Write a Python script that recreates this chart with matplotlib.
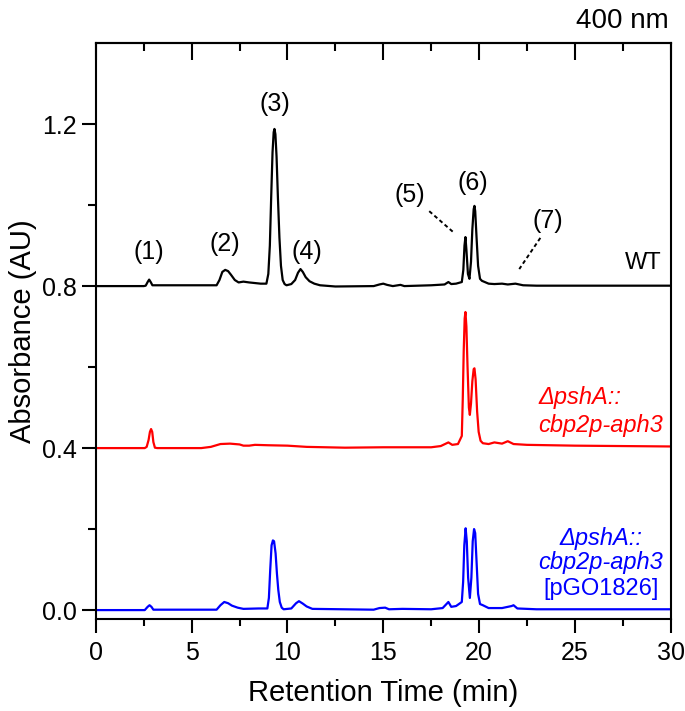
import matplotlib
matplotlib.use('Agg')
import matplotlib.pyplot as plt
import numpy as np

plt.rcParams['font.family'] = ['Liberation Sans', 'DejaVu Sans']

# retention time (min) / absorbance (AU)
wt_time = [0, 2.5, 2.6, 2.7, 2.78, 2.86, 2.95, 6.3, 6.45, 6.6, 6.75, 6.9, 7.05, 7.25,
           7.45, 7.7, 8.0, 8.6, 8.9, 9.0, 9.08, 9.15, 9.22, 9.28, 9.32, 9.37, 9.43, 9.5,
           9.58, 9.66, 9.75, 9.85, 9.95, 10.2, 10.4, 10.55, 10.68, 10.8, 10.95, 11.15,
           11.4, 11.7, 12.5, 14.5, 14.8, 15.0, 15.2, 15.5, 15.9, 16.1, 17.5, 18.2, 18.4,
           18.55, 18.8, 19.1, 19.18, 19.24, 19.29, 19.34, 19.42, 19.5, 19.58, 19.65,
           19.72, 19.76, 19.8, 19.87, 19.95, 20.05, 20.15, 20.3, 20.5, 20.8, 21.2, 21.5,
           21.9, 22.3, 23, 30]
wt_abs = [0.800, 0.800, 0.801, 0.810, 0.816, 0.810, 0.802, 0.802, 0.815, 0.835, 0.840,
          0.837, 0.828, 0.815, 0.809, 0.811, 0.809, 0.806, 0.806, 0.830, 0.900, 1.020,
          1.130, 1.180, 1.188, 1.175, 1.120, 1.020, 0.920, 0.850, 0.815, 0.805, 0.802,
          0.805, 0.815, 0.833, 0.842, 0.835, 0.822, 0.812, 0.806, 0.802, 0.799, 0.800,
          0.804, 0.806, 0.803, 0.800, 0.803, 0.800, 0.802, 0.804, 0.810, 0.805, 0.806,
          0.810, 0.840, 0.900, 0.921, 0.890, 0.830, 0.818, 0.860, 0.940, 0.990, 0.998,
          0.985, 0.920, 0.850, 0.818, 0.813, 0.810, 0.806, 0.805, 0.806, 0.804, 0.806,
          0.802, 0.801, 0.801]

mut_time = [0, 2.55, 2.65, 2.75, 2.82, 2.88, 2.94, 3.0, 3.08, 3.2, 5.5, 6.0, 6.5, 7.0,
            7.5, 7.7, 8.0, 8.3, 9, 10, 11, 13, 15, 17.5, 18.0, 18.4, 18.6, 18.9, 19.1,
            19.15, 19.2, 19.25, 19.29, 19.34, 19.4, 19.47, 19.52, 19.58, 19.65, 19.72,
            19.76, 19.82, 19.9, 19.98, 20.08, 20.2, 20.5, 20.8, 21.2, 21.5, 21.8, 22.5,
            25, 30]
mut_abs = [0.400, 0.400, 0.403, 0.420, 0.440, 0.447, 0.440, 0.415, 0.401, 0.400, 0.400,
           0.403, 0.410, 0.411, 0.409, 0.406, 0.406, 0.408, 0.407, 0.406, 0.403, 0.401,
           0.402, 0.402, 0.405, 0.414, 0.408, 0.410, 0.430, 0.520, 0.640, 0.720, 0.736,
           0.700, 0.600, 0.500, 0.482, 0.510, 0.565, 0.595, 0.597, 0.570, 0.490, 0.440,
           0.418, 0.412, 0.410, 0.414, 0.411, 0.417, 0.410, 0.408, 0.406, 0.404]

comp_time = [0, 2.55, 2.7, 2.8, 2.9, 3.0, 6.3, 6.5, 6.7, 6.9, 7.1, 7.4, 7.7, 8.5, 8.95,
             9.03, 9.1, 9.17, 9.24, 9.3, 9.38, 9.45, 9.52, 9.6, 9.7, 9.8, 10.2, 10.45,
             10.6, 10.8, 11.0, 11.3, 14.5, 14.8, 15.1, 15.3, 16.0, 17.5, 18.1, 18.4,
             18.55, 18.8, 19.1, 19.17, 19.23, 19.3, 19.36, 19.43, 19.52, 19.6, 19.67,
             19.74, 19.8, 19.87, 19.95, 20.05, 20.2, 20.5, 21.2, 21.7, 21.8, 22.0, 23, 30]
comp_abs = [0.000, 0.000, 0.008, 0.012, 0.008, 0.001, 0.001, 0.012, 0.020, 0.017, 0.011,
            0.006, 0.003, 0.004, 0.004, 0.030, 0.100, 0.160, 0.172, 0.170, 0.140, 0.090,
            0.050, 0.020, 0.006, 0.002, 0.004, 0.017, 0.022, 0.016, 0.009, 0.003, 0.001,
            0.005, 0.006, 0.002, 0.003, 0.002, 0.005, 0.020, 0.008, 0.010, 0.020, 0.070,
            0.160, 0.202, 0.170, 0.080, 0.030, 0.080, 0.170, 0.200, 0.190, 0.120, 0.040,
            0.015, 0.012, 0.005, 0.005, 0.010, 0.012, 0.004, 0.002, 0.002]

peak_labels = ['(1)', '(2)', '(3)', '(4)', '(5)', '(6)', '(7)']
peak_x = [2.77, 6.75, 9.35, 11.0, 16.4, 19.7, 23.6]
peak_y = [0.885, 0.905, 1.25, 0.885, 1.025, 1.055, 0.96]

fig = plt.figure(figsize=(6.85, 7.11), dpi=100)
ax = fig.add_axes([0.140, 0.1294, 0.839, 0.810])

ax.plot(wt_time, wt_abs, color='black', lw=1.6)
ax.plot(mut_time, mut_abs, color='red', lw=1.6)
ax.plot(comp_time, comp_abs, color='blue', lw=1.6)

for lab, x, y in zip(peak_labels, peak_x, peak_y):
    ax.text(x, y, lab, fontsize=18, ha='center', va='center')

# leader lines for (5) and (7)
ax.plot([17.4, 18.66], [0.985, 0.933], color='black', lw=1.4, ls=(0, (2, 1.5)))
ax.plot([23.2, 22.1], [0.919, 0.842], color='black', lw=1.4, ls=(0, (2, 1.5)))

ax.text(29.5, 0.857, 'WT', fontsize=17, ha='right', va='center')
ax.text(23.1, 0.49, '\u0394pshA::\ncbp2p-aph3', fontsize=17, color='red',
        style='italic', ha='left', va='center', linespacing=1.25)
ax.text(26.35, 0.147, '\u0394pshA::\ncbp2p-aph3', fontsize=17, color='blue',
        style='italic', ha='center', va='center', linespacing=1.1)
ax.text(26.35, 0.052, '[pGO1826]', fontsize=17, color='blue', ha='center', va='center')

ax.set_xlim(0, 30)
ax.set_ylim(-0.022, 1.40)
ax.set_xticks(np.arange(0, 31, 5))
ax.set_xticks(np.arange(2.5, 30, 5), minor=True)
ax.set_yticks([0.0, 0.4, 0.8, 1.2])
ax.set_yticks([0.2, 0.6, 1.0], minor=True)
ax.yaxis.set_major_formatter(matplotlib.ticker.FormatStrFormatter('%.1f'))

ax.tick_params(axis='x', which='both', direction='out', labelsize=18, width=1.5, pad=6)
ax.tick_params(axis='x', which='major', length=10)
ax.tick_params(axis='x', which='minor', length=5)
ax.tick_params(axis='y', which='both', direction='out', labelsize=18, width=1.5)
ax.tick_params(axis='y', which='major', length=10)
ax.tick_params(axis='y', which='minor', length=6)

# top ticks point inward
top = ax.secondary_xaxis('top')
top.set_xticks(np.arange(0, 31, 5))
top.set_xticks(np.arange(2.5, 30, 5), minor=True)
top.tick_params(which='both', direction='in', labeltop=False, width=1.5)
top.tick_params(which='major', length=12)
top.tick_params(which='minor', length=6)

for sp in ax.spines.values():
    sp.set_linewidth(1.5)
top.spines['top'].set_linewidth(1.5)

ax.set_xlabel('Retention Time (min)', fontsize=21, labelpad=10)
ax.set_ylabel('Absorbance (AU)', fontsize=21, labelpad=4)
fig.text(0.977, 0.97, '400 nm', fontsize=20, ha='right', va='center')

fig.savefig('out.png', dpi=100)
